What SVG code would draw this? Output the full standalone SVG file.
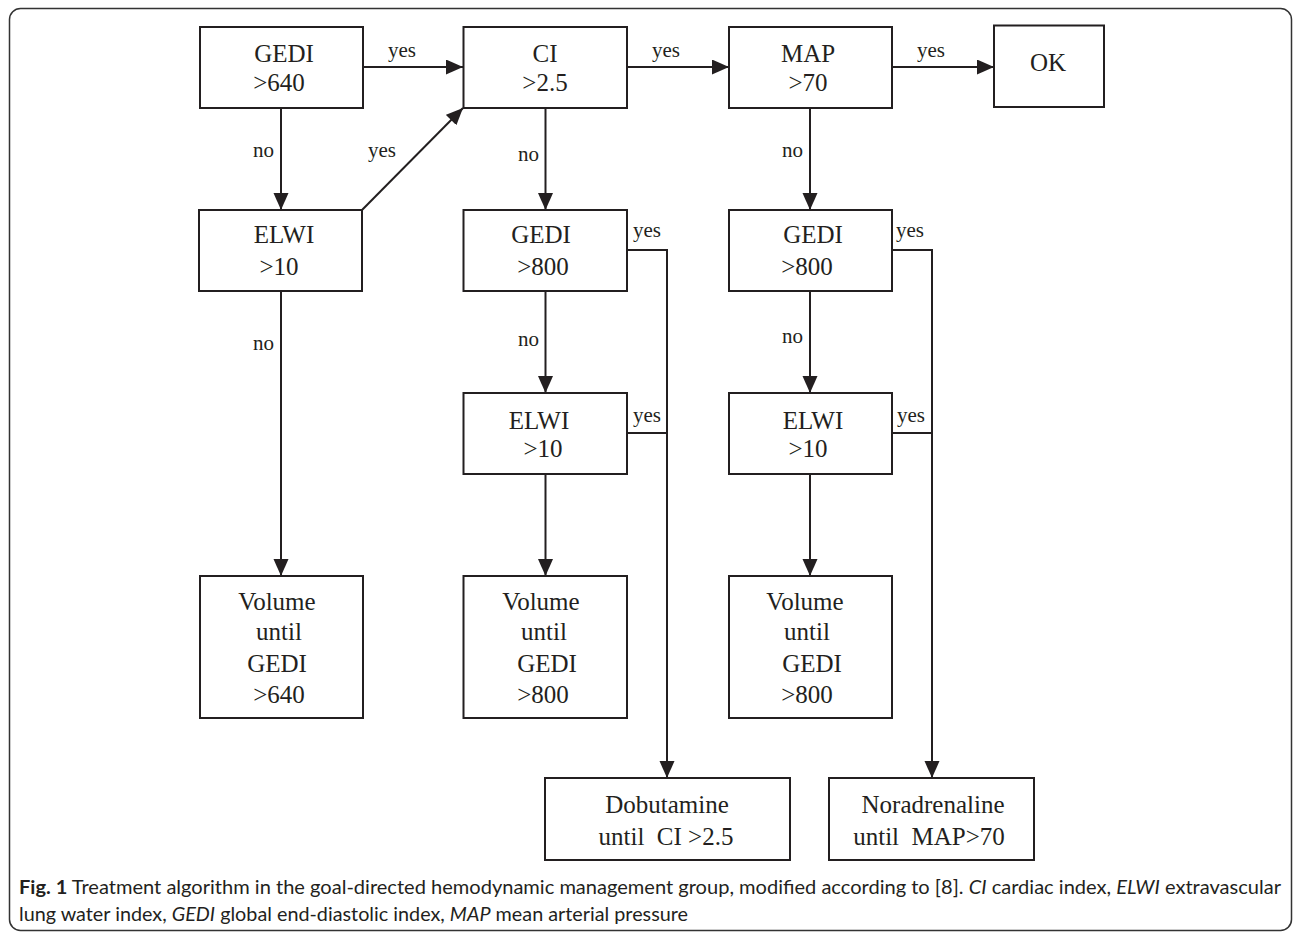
<svg xmlns="http://www.w3.org/2000/svg" width="1293" height="934" viewBox="0 0 1293 934">
<style>
.frame{fill:none;stroke:#333;stroke-width:1.5}
.box{fill:#fff;stroke:#231f20;stroke-width:2}
.t{font-family:"Liberation Serif","Times New Roman",serif;font-size:25px;fill:#231f20;text-anchor:middle;white-space:pre}
.lbl{font-family:"Liberation Serif","Times New Roman",serif;font-size:21px;fill:#231f20}
.ln{fill:none;stroke:#231f20;stroke-width:2}
.cap{font-family:Lato,"Open Sans",sans-serif;font-size:19px;fill:#231f20}
</style>
<defs>
<marker id="ah" markerUnits="userSpaceOnUse" markerWidth="18" markerHeight="16" refX="17" refY="7.5" orient="auto">
<path d="M0,0 L17,7.5 L0,15 z" fill="#231f20"/>
</marker>
</defs>
<rect class="frame" x="9.5" y="8.5" width="1282" height="922" rx="11"/>

<g id="connectors">
<line class="ln" x1="363" y1="67" x2="463" y2="67" marker-end="url(#ah)"/>
<line class="ln" x1="627" y1="67" x2="729" y2="67" marker-end="url(#ah)"/>
<line class="ln" x1="892" y1="67" x2="994" y2="67" marker-end="url(#ah)"/>
<line class="ln" x1="281" y1="108" x2="281" y2="210" marker-end="url(#ah)"/>
<line class="ln" x1="362" y1="210" x2="463" y2="108" marker-end="url(#ah)"/>
<line class="ln" x1="281" y1="291" x2="281" y2="576" marker-end="url(#ah)"/>
<line class="ln" x1="545.5" y1="108" x2="545.5" y2="210" marker-end="url(#ah)"/>
<line class="ln" x1="545.5" y1="291" x2="545.5" y2="393" marker-end="url(#ah)"/>
<line class="ln" x1="545.5" y1="474" x2="545.5" y2="576" marker-end="url(#ah)"/>
<line class="ln" x1="810" y1="108" x2="810" y2="210" marker-end="url(#ah)"/>
<line class="ln" x1="810" y1="291" x2="810" y2="393" marker-end="url(#ah)"/>
<line class="ln" x1="810" y1="474" x2="810" y2="576" marker-end="url(#ah)"/>
<polyline class="ln" points="627,250 667,250 667,778" marker-end="url(#ah)"/>
<line class="ln" x1="627" y1="433" x2="667" y2="433"/>
<polyline class="ln" points="892,250 932,250 932,778" marker-end="url(#ah)"/>
<line class="ln" x1="892" y1="433" x2="932" y2="433"/>
<text class="lbl" x="388" y="57">yes</text>
<text class="lbl" x="652" y="57">yes</text>
<text class="lbl" x="917" y="57">yes</text>
<text class="lbl" x="253" y="157">no</text>
<text class="lbl" x="368" y="157">yes</text>
<text class="lbl" x="518" y="161">no</text>
<text class="lbl" x="782" y="157">no</text>
<text class="lbl" x="633" y="237">yes</text>
<text class="lbl" x="896" y="237">yes</text>
<text class="lbl" x="253" y="350">no</text>
<text class="lbl" x="518" y="346">no</text>
<text class="lbl" x="782" y="343">no</text>
<text class="lbl" x="633" y="422">yes</text>
<text class="lbl" x="897" y="422">yes</text>
</g>

<g id="n-gedi640">
<rect class="box" x="200" y="27" width="163" height="81"/>
<text class="t" x="284" y="62">GEDI</text>
<text class="t" x="279" y="91">&gt;640</text>
</g>
<g id="n-ci">
<rect class="box" x="463.5" y="27" width="163.5" height="81"/>
<text class="t" x="545" y="62">CI</text>
<text class="t" x="545" y="91">&gt;2.5</text>
</g>
<g id="n-map">
<rect class="box" x="729" y="27" width="163" height="81"/>
<text class="t" x="808" y="62">MAP</text>
<text class="t" x="808" y="91">&gt;70</text>
</g>
<g id="n-ok">
<rect class="box" x="994" y="25.5" width="110" height="81.5"/>
<text class="t" x="1048" y="71">OK</text>
</g>
<g id="n-elwi-left">
<rect class="box" x="199" y="210" width="163" height="81"/>
<text class="t" x="284" y="243">ELWI</text>
<text class="t" x="279" y="275">&gt;10</text>
</g>
<g id="n-gedi800-mid">
<rect class="box" x="463.5" y="210" width="163.5" height="81"/>
<text class="t" x="541" y="243">GEDI</text>
<text class="t" x="543" y="275">&gt;800</text>
</g>
<g id="n-gedi800-right">
<rect class="box" x="729" y="210" width="163" height="81"/>
<text class="t" x="813" y="243">GEDI</text>
<text class="t" x="807" y="275">&gt;800</text>
</g>
<g id="n-elwi-mid">
<rect class="box" x="463.5" y="393" width="163.5" height="81"/>
<text class="t" x="539" y="429">ELWI</text>
<text class="t" x="543" y="457">&gt;10</text>
</g>
<g id="n-elwi-right">
<rect class="box" x="729" y="393" width="163" height="81"/>
<text class="t" x="813" y="429">ELWI</text>
<text class="t" x="808" y="457">&gt;10</text>
</g>
<g id="n-volume-left">
<rect class="box" x="200" y="576" width="163" height="142"/>
<text class="t" x="277" y="610">Volume</text>
<text class="t" x="279" y="640">until</text>
<text class="t" x="277" y="672">GEDI</text>
<text class="t" x="279" y="703">&gt;640</text>
</g>
<g id="n-volume-mid">
<rect class="box" x="463.5" y="576" width="163.5" height="142"/>
<text class="t" x="541" y="610">Volume</text>
<text class="t" x="544" y="640">until</text>
<text class="t" x="547" y="672">GEDI</text>
<text class="t" x="543" y="703">&gt;800</text>
</g>
<g id="n-volume-right">
<rect class="box" x="729" y="576" width="163" height="142"/>
<text class="t" x="805" y="610">Volume</text>
<text class="t" x="807" y="640">until</text>
<text class="t" x="812" y="672">GEDI</text>
<text class="t" x="807" y="703">&gt;800</text>
</g>
<g id="n-dobutamine">
<rect class="box" x="545" y="778" width="245" height="82"/>
<text class="t" x="667" y="813">Dobutamine</text>
<text class="t" x="666" y="845">until  CI &gt;2.5</text>
</g>
<g id="n-noradrenaline">
<rect class="box" x="829" y="778" width="205" height="82"/>
<text class="t" x="933" y="813">Noradrenaline</text>
<text class="t" x="929" y="845">until  MAP&gt;70</text>
</g>

<g id="caption">
<text class="cap" x="19" y="894" textLength="1262" lengthAdjust="spacingAndGlyphs"><tspan font-weight="bold">Fig. 1</tspan> Treatment algorithm in the goal-directed hemodynamic management group, modified according to [8]. <tspan font-style="italic">CI</tspan> cardiac index, <tspan font-style="italic">ELWI</tspan> extravascular</text>
<text class="cap" x="19" y="921" textLength="669" lengthAdjust="spacingAndGlyphs">lung water index, <tspan font-style="italic">GEDI</tspan> global end-diastolic index, <tspan font-style="italic">MAP</tspan> mean arterial pressure</text>
</g>
</svg>
